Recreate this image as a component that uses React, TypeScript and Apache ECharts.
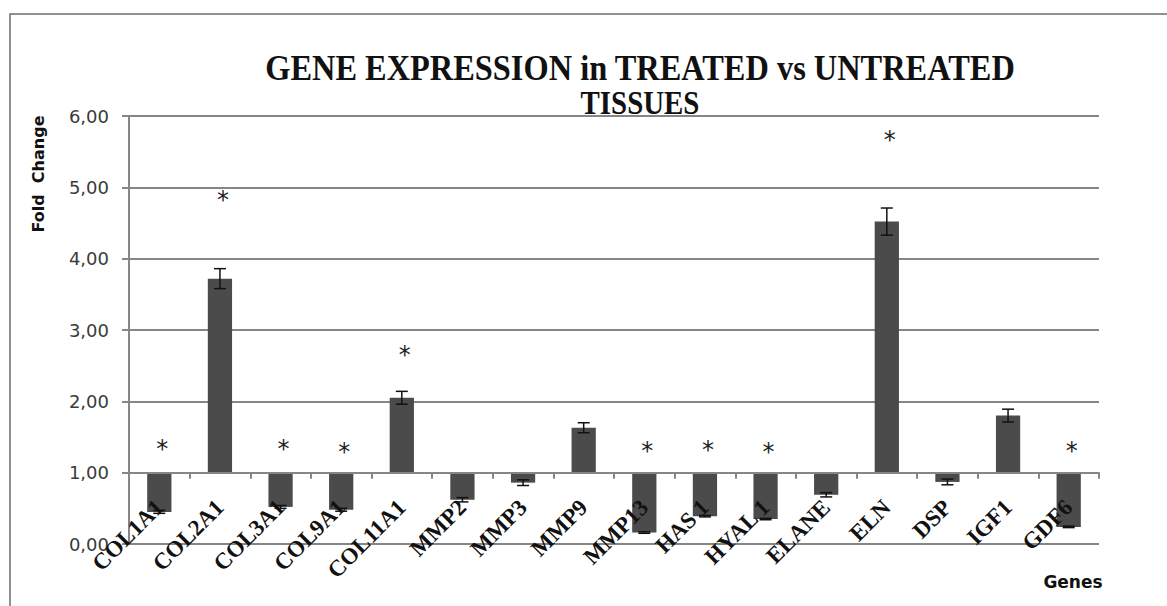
import React, { useEffect, useRef } from "react";
import * as echarts from "echarts";

const genes = ["COL1A1", "COL2A1", "COL3A1", "COL9A1", "COL11A1", "MMP2", "MMP3", "MMP9", "MMP13", "HAS 1", "HYAL 1", "ELANE", "ELN", "DSP", "IGF1", "GDF6"];
const foldChange = [0.45, 3.72, 0.52, 0.48, 2.05, 0.62, 0.86, 1.63, 0.16, 0.39, 0.35, 0.69, 4.52, 0.87, 1.8, 0.24];
const errors = [0.02, 0.14, 0.02, 0.02, 0.09, 0.03, 0.04, 0.07, 0.01, 0.01, 0.01, 0.03, 0.19, 0.04, 0.09, 0.01];
const starY: (number | null)[] = [1.41, 4.9, 1.41, 1.38, 2.74, null, null, null, 1.39, 1.4, 1.38, null, 5.75, null, null, 1.39];
const baseline = 1;
const yMin = 0;
const yMax = 6;
const yInterval = 1;

const titleLine1 = "GENE EXPRESSION in TREATED vs UNTREATED";
const titleLine2 = "TISSUES";

export default function App() {
  const ref = useRef<HTMLDivElement>(null);
  useEffect(() => {
    if (!ref.current) return;
    const chart = echarts.init(ref.current, null, { renderer: "svg" });
    const gridTop = 116;
    const gridBottom = 62;
    const gridH = 606 - gridTop - gridBottom;
    const unitPx = gridH / (yMax - yMin);
    const gridColor = "#868686";

    const barData = genes.map((g, i) => [i, foldChange[i], errors[i]]);
    const starData = genes
      .map((g, i) => (starY[i] == null ? null : [i, starY[i]]))
      .filter((d) => d !== null);

    chart.setOption({
      animation: false,
      backgroundColor: "#ffffff",
      grid: { left: 129, right: 68, top: gridTop, bottom: gridBottom },
      xAxis: {
        type: "category",
        data: genes,
        z: 10,
        offset: -unitPx * (baseline - yMin),
        axisLine: { show: true, lineStyle: { color: gridColor, width: 2 } },
        axisTick: { show: true, length: 6, lineStyle: { color: gridColor, width: 2 } },
        axisLabel: {
          interval: 0,
          rotate: 45,
          margin: 31,
          color: "#111111",
          fontFamily: "Liberation Serif",
          fontWeight: "bold",
          fontSize: 23,
        },
        splitLine: { show: false },
      },
      yAxis: {
        type: "value",
        min: yMin,
        max: yMax,
        interval: yInterval,
        axisLine: { show: true, lineStyle: { color: gridColor, width: 2 } },
        axisTick: { show: true, length: 7, lineStyle: { color: gridColor, width: 2 } },
        axisLabel: {
          margin: 20,
          color: "#3a3a3a",
          fontFamily: "DejaVu Sans",
          fontSize: 18,
          formatter: (v: number) => v.toFixed(2).replace(".", ","),
        },
        splitLine: { show: true, lineStyle: { color: gridColor, width: 2 } },
      },
      graphic: [
        {
          type: "rect",
          shape: { x: 10, y: 14, width: 1400, height: 800 },
          style: { fill: "none", stroke: "#6e6e6e", lineWidth: 1.5 },
          silent: true,
        },
        {
          type: "text",
          x: 640,
          y: 67,
          scaleX: 0.9,
          style: {
            text: titleLine1,
            align: "center",
            verticalAlign: "middle",
            fontFamily: "Liberation Serif",
            fontWeight: "bold",
            fontSize: 36,
            fill: "#111111",
          },
        },
        {
          type: "text",
          x: 640,
          y: 103,
          scaleX: 0.85,
          style: {
            text: titleLine2,
            align: "center",
            verticalAlign: "middle",
            fontFamily: "Liberation Serif",
            fontWeight: "bold",
            fontSize: 34,
            fill: "#111111",
          },
        },
        {
          type: "text",
          x: 38,
          y: 174,
          rotation: Math.PI / 2,
          style: {
            text: "Fold  Change",
            align: "center",
            verticalAlign: "middle",
            fontFamily: "DejaVu Sans",
            fontWeight: "bold",
            fontSize: 16,
            fill: "#111111",
          },
        },
        {
          type: "text",
          x: 1073,
          y: 582,
          style: {
            text: "Genes",
            align: "center",
            verticalAlign: "middle",
            fontFamily: "DejaVu Sans",
            fontWeight: "bold",
            fontSize: 17,
            fill: "#111111",
          },
        },
      ],
      series: [
        {
          type: "custom",
          data: barData,
          encode: { x: 0, y: 1 },
          renderItem: (params: any, api: any) => {
            const i = api.value(0);
            const v = api.value(1);
            const e = api.value(2);
            const base = api.coord([i, baseline]);
            const top = api.coord([i, v]);
            const band = api.size([1, 0])[0];
            const bw = band * 0.4;
            const hi = api.coord([i, v + e]);
            const lo = api.coord([i, v - e]);
            const cap = 6;
            return {
              type: "group",
              children: [
                {
                  type: "rect",
                  shape: {
                    x: base[0] - bw / 2,
                    y: Math.min(base[1], top[1]),
                    width: bw,
                    height: Math.abs(base[1] - top[1]),
                  },
                  style: { fill: "#4b4b4b" },
                },
                {
                  type: "line",
                  shape: { x1: top[0], y1: hi[1], x2: top[0], y2: lo[1] },
                  style: { stroke: "#111111", lineWidth: 1.5 },
                },
                {
                  type: "line",
                  shape: { x1: top[0] - cap, y1: hi[1], x2: top[0] + cap, y2: hi[1] },
                  style: { stroke: "#111111", lineWidth: 1.5 },
                },
                {
                  type: "line",
                  shape: { x1: top[0] - cap, y1: lo[1], x2: top[0] + cap, y2: lo[1] },
                  style: { stroke: "#111111", lineWidth: 1.5 },
                },
              ],
            };
          },
        },
        {
          type: "custom",
          data: starData,
          encode: { x: 0, y: 1 },
          renderItem: (params: any, api: any) => {
            const p = api.coord([api.value(0), api.value(1)]);
            return {
              type: "text",
              x: p[0] + 3,
              y: p[1] + 6,
              style: {
                text: "*",
                align: "center",
                verticalAlign: "middle",
                fontFamily: "DejaVu Sans",
                fontSize: 24,
                fill: "#222222",
              },
            };
          },
        },
      ],
    });
    return () => chart.dispose();
  }, []);
  return <div ref={ref} style={{ position: "fixed", left: 0, top: 0, width: 1167, height: 606 }} />;
}
